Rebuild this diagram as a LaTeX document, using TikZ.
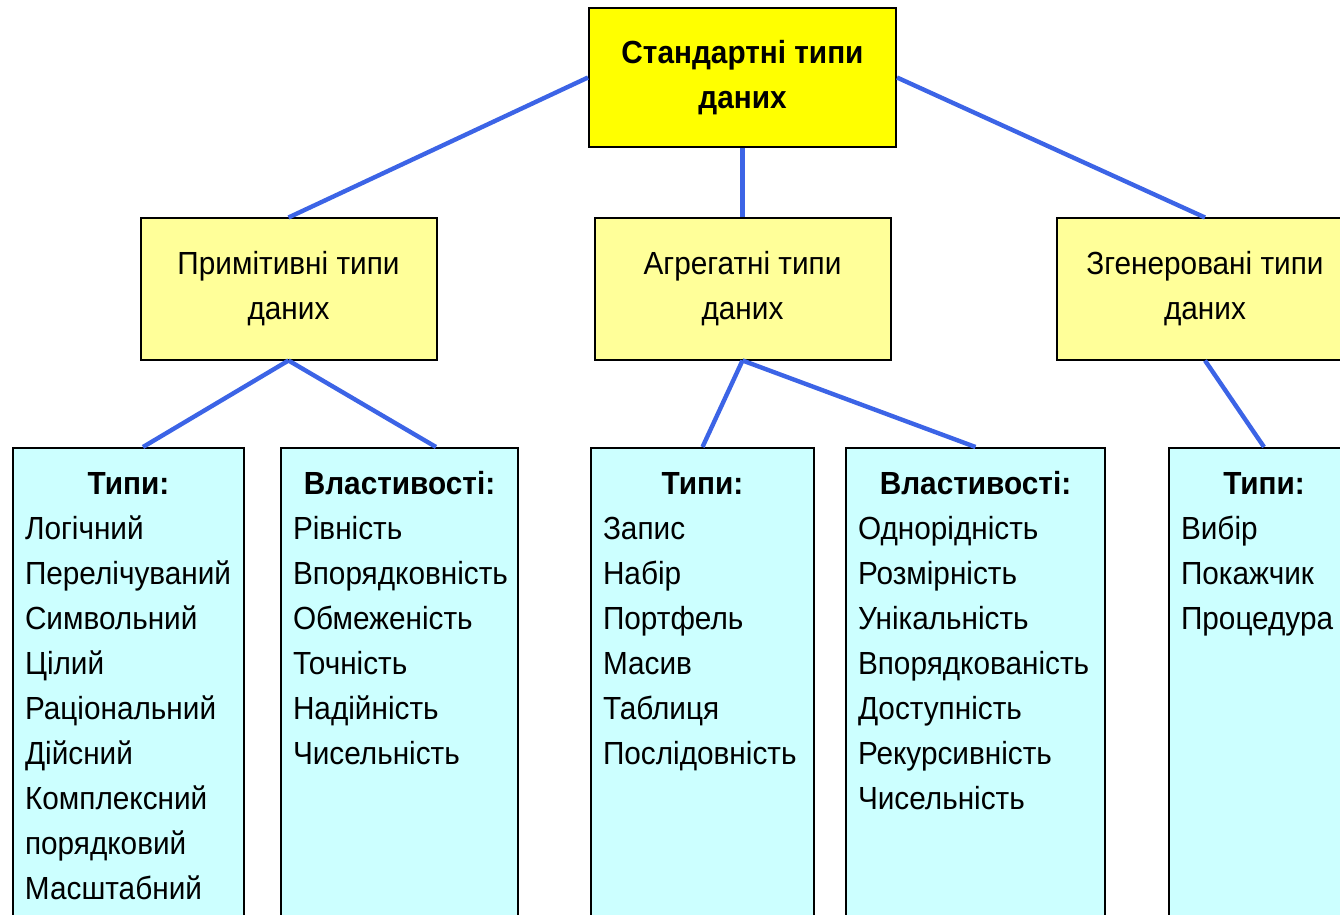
\documentclass[tikz,border=0pt]{standalone}
\usepackage{fontspec}
\setmainfont{Liberation Sans}[FakeStretch=0.93]
\usetikzlibrary{positioning}

\definecolor{topyellow}{RGB}{255,255,0}
\definecolor{midyellow}{RGB}{255,255,153}
\definecolor{listcyan}{RGB}{204,255,255}
\definecolor{linkblue}{RGB}{60,100,230}

\newcommand{\boxfont}{\fontsize{16}{22.5}\selectfont}
% list box: width, header, items
\newcommand{\listbody}[3]{\parbox[c][241.5pt][t]{#1}{\boxfont
  \centering\rule{0pt}{23pt}\textbf{#2}\par
  \raggedright\leftskip=6pt #3\par}}

\tikzset{
  topbox/.style={draw, line width=1pt, fill=topyellow, align=center,
    font=\boxfont\bfseries, minimum width=153.5pt, minimum height=69.5pt},
  kindbox/.style={draw, line width=1pt, fill=midyellow, align=center,
    font=\boxfont, minimum width=148pt, minimum height=70.5pt},
  listbox/.style={draw, line width=1pt, fill=listcyan, inner sep=0pt,
    anchor=north west},
  link/.style={draw=linkblue, line width=2.2pt}
}

\begin{document}
\begin{tikzpicture}[x=0.5pt,y=-0.5pt]
\useasboundingbox (0,0) rectangle (1340,915);

\node[topbox] (std) at (742.5,77.5) {Стандартні типи\\даних};

\node[kindbox] (prim) at (288.5,289) {Примітивні типи\\даних};
\node[kindbox] (aggr) at (742.5,289) {Агрегатні типи\\даних};
\node[kindbox] (gen) at (1205,289) {Згенеровані типи\\даних};

\node[listbox] (ptypes) at (12,447) {\listbody{115.5pt}{Типи:}{Логічний\\
  Перелічуваний\\ Символьний\\ Цілий\\ Раціональний\\ Дійсний\\
  Комплексний\\ порядковий\\ Масштабний}};
\node[listbox] (pprops) at (280,447) {\listbody{118.5pt}{Властивості:}{Рівність\\
  Впорядковність\\ Обмеженість\\ Точність\\ Надійність\\ Чисельність}};
\node[listbox] (atypes) at (590,447) {\listbody{111.5pt}{Типи:}{Запис\\
  Набір\\ Портфель\\ Масив\\ Таблиця\\ Послідовність}};
\node[listbox] (aprops) at (845,447) {\listbody{129.5pt}{Властивості:}{Однорідність\\
  Розмірність\\ Унікальність\\ Впорядкованість\\ Доступність\\
  Рекурсивність\\ Чисельність}};
\node[listbox] (gtypes) at (1168,447) {\listbody{95pt}{Типи:}{Вибір\\
  Покажчик\\ Процедура}};

% links
\draw[link] (std.west) -- (prim.north);
\draw[link] (std.south) -- (aggr.north);
\draw[link] (std.east) -- (gen.north);
\draw[link] (prim.south) -- ([xshift=7.25pt]ptypes.north);
\draw[link] (prim.south) -- ([xshift=18.25pt]pprops.north);
\draw[link] (aggr.south) -- (atypes.north);
\draw[link] (aggr.south) -- (aprops.north);
\draw[link] (gen.south) -- (gtypes.north);
\end{tikzpicture}
\end{document}
